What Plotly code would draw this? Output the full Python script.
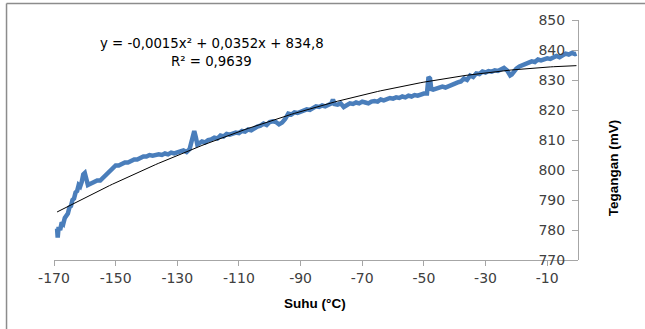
import numpy as np
import plotly.graph_objects as go

# Measured temperature (°C) and sensor voltage (mV)
suhu = [
    -169.0, -168.8, -168.5, -168.0, -167.5, -167.0, -166.5, -166.0, -165.5, -165.0,
    -164.5, -164.0, -163.5, -163.0, -162.5, -162.0, -161.5, -161.0, -160.5, -160.0,
    -159.5, -159.0, -158.0, -157.0, -156.0, -155.0, -154.0, -153.0, -152.0, -151.0,
    -150.0, -149.0, -148.0, -147.0, -146.0, -145.0, -144.0, -143.0, -142.0, -141.0,
    -140.0, -139.0, -138.0, -137.0, -136.0, -135.0, -134.0, -133.0, -132.0, -131.0,
    -130.0, -129.0, -128.0, -127.0, -126.0, -125.5, -125.0, -124.5, -124.0, -123.5,
    -123.0, -122.0, -121.0, -120.0, -119.0, -118.0, -117.0, -116.0, -115.0, -114.0,
    -113.0, -112.0, -111.0, -110.0, -109.0, -108.0, -107.0, -106.0, -105.0, -104.0,
    -103.0, -102.0, -101.0, -100.0, -99.0, -98.0, -97.0, -96.0, -95.0, -94.0,
    -93.0, -92.0, -91.0, -90.0, -89.0, -88.0, -87.0, -86.0, -85.0, -84.0,
    -83.0, -82.0, -81.0, -80.0, -79.5, -79.0, -78.0, -77.0, -76.0, -75.0,
    -74.0, -73.0, -72.0, -71.0, -70.0, -69.0, -68.0, -67.0, -66.0, -65.0,
    -64.0, -63.0, -62.0, -61.0, -60.0, -59.0, -58.0, -57.0, -56.0, -55.0,
    -54.0, -53.0, -52.0, -51.0, -50.0, -49.0, -48.8, -48.5, -48.0, -47.6,
    -47.0, -46.0, -45.0, -44.0, -43.0, -42.0, -41.0, -40.0, -39.0, -38.0,
    -37.0, -36.0, -35.0, -34.0, -33.0, -32.0, -31.0, -30.0, -29.0, -28.0,
    -27.0, -26.0, -25.0, -24.0, -23.0, -22.0, -21.5, -21.0, -20.0, -19.0,
    -18.0, -17.0, -16.0, -15.0, -14.0, -13.0, -12.0, -11.0, -10.0, -9.0,
    -8.0, -7.0, -6.0, -5.0, -4.0, -3.0, -2.0, -1.0, -0.5,
]
tegangan = [
    780.5, 777.5, 781.0, 780.0, 782.5, 782.0, 784.0, 785.0, 785.5, 787.5,
    788.0, 790.0, 790.5, 792.5, 793.0, 795.0, 794.5, 796.0, 798.5, 799.0,
    797.0, 795.0, 795.5, 796.0, 796.5, 796.5, 797.5, 798.5, 800.0, 800.5,
    801.5, 801.5, 802.0, 802.5, 802.5, 803.0, 803.5, 803.5, 804.0, 804.5,
    804.5, 805.0, 804.8, 805.0, 805.2, 805.0, 805.5, 805.2, 805.8, 805.5,
    806.0, 806.2, 806.5, 806.0, 807.0, 809.0, 812.0, 813.0, 811.0, 808.5,
    808.8, 809.5, 809.2, 810.0, 810.2, 810.8, 810.5, 811.5, 811.2, 812.0,
    811.8, 812.2, 812.5, 812.3, 813.0, 812.8, 813.5, 813.2, 814.0, 814.5,
    814.8, 815.5, 815.0, 816.0, 816.2, 816.0, 815.2, 815.8, 817.0, 818.8,
    818.5, 819.2, 819.0, 819.5, 819.8, 820.2, 820.0, 820.8, 821.2, 821.0,
    821.5, 821.2, 821.8, 822.2, 823.5, 822.0, 821.8, 822.2, 821.0, 821.8,
    822.2, 822.0, 822.5, 822.2, 822.8, 822.5, 822.2, 822.8, 823.0, 822.8,
    823.5, 823.2, 823.8, 824.0, 823.8, 824.2, 824.0, 824.5, 824.2, 824.8,
    824.5, 825.0, 824.8, 825.2, 825.5, 825.5, 829.0, 831.0, 830.5, 827.0,
    826.8, 827.2, 827.5, 827.8, 827.5, 828.0, 828.3, 828.8, 829.2, 829.5,
    830.5, 830.0, 831.5, 831.0, 832.2, 832.0, 832.8, 832.5, 833.0, 832.8,
    833.2, 833.0, 833.5, 834.0, 833.2, 831.5, 831.8, 832.5, 833.8, 834.5,
    835.0, 835.5, 835.8, 836.2, 836.0, 836.8, 836.5, 837.0, 837.2, 837.0,
    837.5, 838.0, 837.6, 838.2, 838.8, 838.5, 839.0, 838.6, 838.8,
]

# Second-order polynomial trend coefficients (a, b, c)
trend_coef = [-0.0015, 0.0352, 834.8]

x_ticks = [-170, -150, -130, -110, -90, -70, -50, -30, -10]
y_ticks = [770, 780, 790, 800, 810, 820, 830, 840, 850]

trend_y = np.polyval(trend_coef, np.array(suhu))

fig = go.Figure()
fig.add_trace(go.Scatter(
    x=suhu, y=tegangan, mode="lines",
    line=dict(color="#4A7EBB", width=4.5),
    showlegend=False, hoverinfo="skip",
))
fig.add_trace(go.Scatter(
    x=suhu, y=trend_y, mode="lines",
    line=dict(color="#000000", width=1),
    showlegend=False, hoverinfo="skip",
))

tick_font = dict(family="DejaVu Sans", size=14, color="#404040")
axis_color = "#A6A6A6"

fig.update_layout(
    width=645, height=329,
    margin=dict(l=54, r=67, t=20, b=69),
    paper_bgcolor="white", plot_bgcolor="white",
    xaxis=dict(
        range=[-170, 0], tickvals=x_ticks, ticktext=[str(v) for v in x_ticks],
        showgrid=False, zeroline=False, showline=True, linecolor=axis_color,
        linewidth=1, ticks="outside", ticklen=5, tickcolor=axis_color,
        tickfont=tick_font,
    ),
    yaxis=dict(
        range=[770, 850], tickvals=y_ticks, ticktext=[str(v) for v in y_ticks],
        anchor="free", position=1.0, side="left",
        showgrid=False, zeroline=False, showline=True, linecolor=axis_color,
        linewidth=1, ticks="outside", ticklen=6, tickcolor=axis_color,
        tickfont=tick_font, ticklabelstandoff=4,
    ),
)

title_font = dict(family="Liberation Sans", size=13.5, color="#000000")

fig.add_annotation(
    text="<b>Suhu (°C)</b>", xref="paper", yref="paper",
    x=0.498, y=-0.183, xanchor="center", yanchor="middle",
    showarrow=False, font=title_font,
)
fig.add_annotation(
    text="<b>Tegangan (mV)</b>", xref="paper", yref="paper",
    x=1.067, y=0.383, xanchor="center", yanchor="middle", textangle=-90,
    showarrow=False, font=title_font,
)

eq_font = dict(family="DejaVu Sans", size=13.3, color="#000000")
fig.add_annotation(
    text="y = -0,0015x² + 0,0352x + 834,8", xref="paper", yref="paper",
    x=0.3015, y=0.9, xanchor="center", yanchor="middle",
    showarrow=False, font=eq_font,
)
fig.add_annotation(
    text="R² = 0,9639", xref="paper", yref="paper",
    x=0.3015, y=0.829, xanchor="center", yanchor="middle",
    showarrow=False, font=eq_font,
)

# Chart frame (left and top edges)
border = dict(color="#8C8C8C", width=1.5)
fig.add_shape(type="line", xref="paper", yref="paper",
              x0=-0.0906, x1=-0.0906, y0=-0.3, y1=1.0688, line=border)
fig.add_shape(type="line", xref="paper", yref="paper",
              x0=-0.0906, x1=1.13, y0=1.0688, y1=1.0688, line=border)

fig.write_html("out.html")
